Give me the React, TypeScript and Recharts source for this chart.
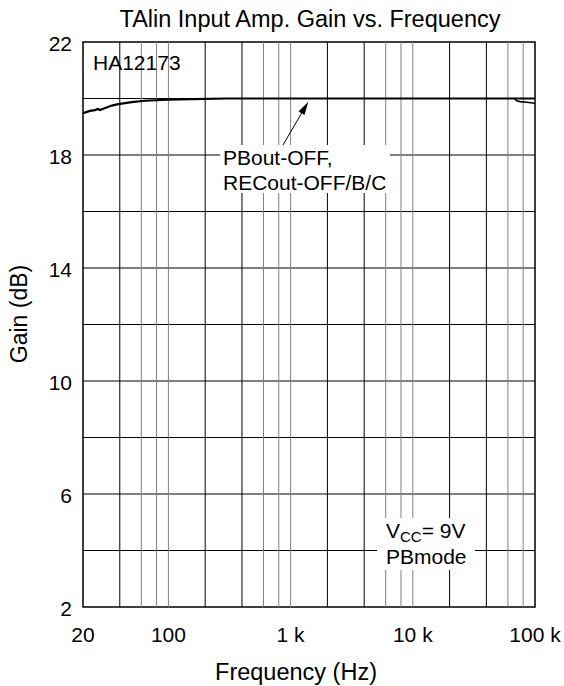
import { LineChart, Line, XAxis, YAxis, ReferenceLine, ReferenceArea } from 'recharts';

const FONT = '"Liberation Sans", Arial, Helvetica, sans-serif';

// main curve (PBout-OFF, RECout-OFF/B/C)
const freqMain = [20, 22.8, 25.1, 26.4, 27.5, 29.3, 34.4, 38.9, 50, 64, 100, 155, 300, 1000, 10000, 100000];
const gainMain = [19.48, 19.56, 19.59, 19.63, 19.59, 19.64, 19.75, 19.8, 19.87, 19.92, 19.96, 19.98, 20.0, 20.0, 20.0, 20.0];

// branch that drops at the top end
const freqAlt = [67700, 70800, 75400, 85500, 100000];
const gainAlt = [20.0, 19.92, 19.89, 19.87, 19.83];

// axes
const xTickValues = [20, 100, 1000, 10000, 100000];
const xTickLabels = ['20', '100', '1 k', '10 k', '100 k'];
const yTickValues = [2, 6, 10, 14, 18, 22];
const yGrid = [4, 6, 8, 10, 12, 14, 16, 18, 20];
const xGridDark = [40, 200, 400, 2000, 4000, 20000, 40000];
const xGridLight = [60, 80, 100, 600, 800, 1000, 6000, 8000, 10000, 60000, 80000];

const mainData = freqMain.map((f, i) => ({ f, gain: gainMain[i] }));
const altData = freqAlt.map((f, i) => ({ f, gain: gainAlt[i] }));

const XTick = (props: any) => {
  const { x, y, payload } = props;
  const i = xTickValues.indexOf(payload.value);
  return (
    <text x={x} y={y + 35} textAnchor="middle" fontSize={21} fontFamily={FONT} fill="#000">
      {xTickLabels[i]}
    </text>
  );
};

const YTick = (props: any) => {
  const { x, y, payload } = props;
  return (
    <text x={x} y={y + 9} textAnchor="end" fontSize={21} fontFamily={FONT} fill="#000">
      {payload.value}
    </text>
  );
};

// title, axis titles and notes, laid over the chart
const Overlay = () => (
  <svg width={564} height={686} style={{ position: 'absolute', left: 0, top: 0, pointerEvents: 'none' }}>
    <g fontFamily={FONT} fill="#000">
      <text x={310} y={27} textAnchor="middle" fontSize={23.5}>TAlin Input Amp. Gain vs. Frequency</text>
      <text x={296} y={680} textAnchor="middle" fontSize={23.5}>Frequency (Hz)</text>
      <text x={27} y={314} textAnchor="middle" fontSize={23} transform="rotate(-90 27 314)">Gain (dB)</text>
      <text x={93} y={70} fontSize={21}>HA12173</text>

      <rect x={220} y={145} width={170} height={48} fill="#fff" />
      <line x1={283} y1={145} x2={304} y2={109} stroke="#000" strokeWidth={1} />
      <polygon points="308.3,101.7 304.5,115 298.5,111.5" fill="#000" />
      <text x={223} y={165} fontSize={21}>PBout-OFF,</text>
      <text x={223} y={189.5} fontSize={21}>RECout-OFF/B/C</text>

      <rect x={377} y={518} width={98} height={52} fill="#fff" />
      <text x={386} y={538} fontSize={21}>
        V<tspan fontSize={15} dy={4}>CC</tspan><tspan dy={-4}>= 9V</tspan>
      </text>
      <text x={386} y={564} fontSize={21}>PBmode</text>
    </g>
  </svg>
);

export default function App() {
  return (
    <div style={{ position: 'absolute', left: 0, top: 0, width: 564, height: 686, background: '#fff' }}>
      <LineChart width={564} height={686} margin={{ top: 42, right: 29, bottom: 39, left: 23 }}>
        <XAxis
          dataKey="f"
          type="number"
          scale="log"
          domain={[20, 100000]}
          ticks={xTickValues}
          allowDataOverflow
          axisLine={false}
          tickLine={false}
          tickSize={0}
          tickMargin={0}
          height={40}
          tick={<XTick />}
          interval={0}
        />
        <YAxis
          type="number"
          domain={[2, 22]}
          ticks={yTickValues}
          axisLine={false}
          tickLine={false}
          tickSize={0}
          tickMargin={11}
          width={60}
          tick={<YTick />}
          interval={0}
        />
        {yGrid.map((v) => (
          <ReferenceLine key={'y' + v} y={v} stroke="#000" strokeWidth={1} />
        ))}
        {xGridLight.map((v) => (
          <ReferenceLine key={'xl' + v} x={v} stroke="#808080" strokeWidth={1} />
        ))}
        {xGridDark.map((v) => (
          <ReferenceLine key={'xd' + v} x={v} stroke="#000" strokeWidth={1} />
        ))}
        <ReferenceArea x1={20} x2={100000} y1={2} y2={22} fill="none" fillOpacity={0} stroke="#000" strokeWidth={1.5} />
        <Line data={mainData} dataKey="gain" type="linear" stroke="#000" strokeWidth={2.2} dot={false} isAnimationActive={false} />
        <Line data={altData} dataKey="gain" type="linear" stroke="#000" strokeWidth={1.6} dot={false} isAnimationActive={false} />
      </LineChart>
      <Overlay />
    </div>
  );
}
